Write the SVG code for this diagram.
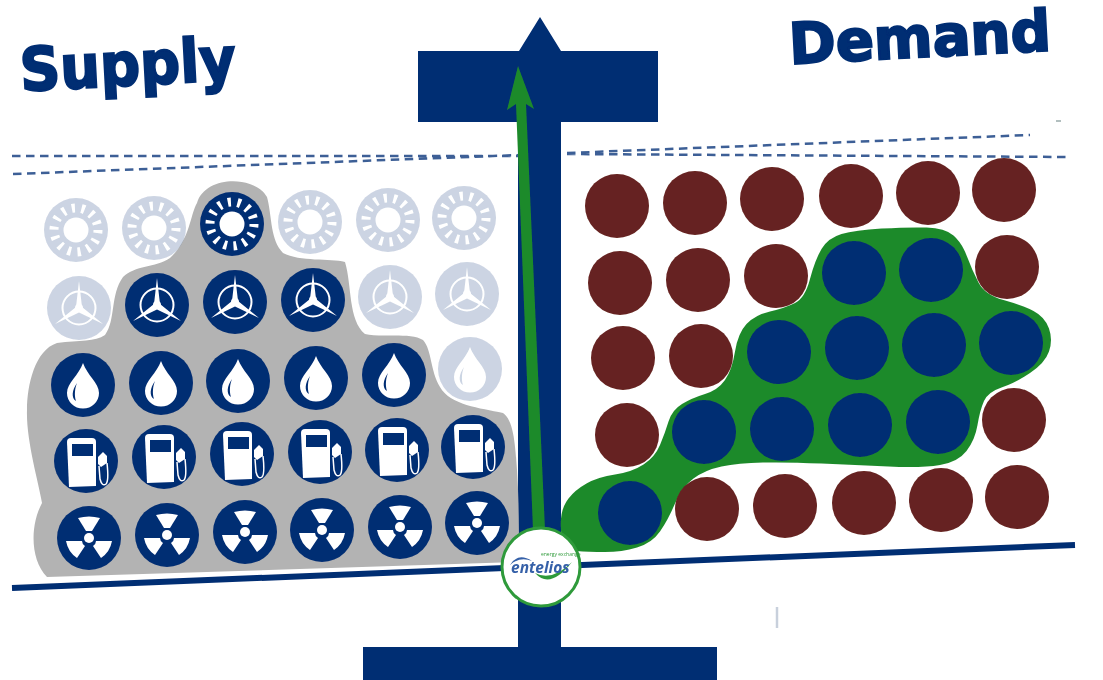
<svg xmlns="http://www.w3.org/2000/svg" width="1103" height="680" viewBox="0 0 1103 680">
<style>
.n{fill:#032d73}.b{fill:#662420}.w{fill:#fff}
.t{font-family:"DejaVu Sans",sans-serif;font-weight:700;fill:#032d73;stroke:#032d73;stroke-width:2.200px}
.dash{fill:none;stroke:#3c5f96;stroke-width:2.500;stroke-dasharray:8.500 5.500}
.ws{fill:none;stroke:#fff;stroke-width:2}
.faint{opacity:.2}
</style>
<defs>
<filter id="soft" x="0" y="0" width="100%" height="100%" filterUnits="userSpaceOnUse"><feGaussianBlur stdDeviation="0.600"/></filter>
<g id="sun"><circle r="32" class="n"/><circle r="12.500" class="w"/><circle r="22" fill="none" stroke="#fff" stroke-width="9" stroke-dasharray="3.200 6.670"/></g>
<g id="wind"><circle r="32" class="n"/><circle r="16.500" class="ws"/><path class="w" d="M0-27 3-1 24 16 0 4.500-24 16-3-1Z"/><circle r="4" class="w"/></g>
<g id="drop"><circle r="32" class="n"/><path class="w" d="M0-22C4-10 16-2 16 8A16 15.500 0 0 1-16 8C-16-2-4-10 0-22Z"/><path class="n" d="M-6-2C-11 5-12 13-7 16C-9 10-8 3-6-2Z"/></g>
<g id="pump"><circle r="32" class="n"/><path class="w" d="M-19-19Q-19-23-15-23H6Q10-23 10-19V25L-17 26Z"/><rect x="-14" y="-17" width="21" height="12" class="n"/><path class="w" d="M12-4 17-9 21-5V2L15 6 12 3Z"/><path d="M13 5 14 18Q16 26 20 23 23 20 21 2" fill="none" stroke="#fff" stroke-width="1.500"/></g>
<g id="nuke"><circle r="32" class="n"/><circle r="5" class="w"/><path class="w" d="M-11-20Q0-23 11-20L3-7H-3Z"/><path class="w" d="M-23 3H-7Q-7 6-4 8L-12 20Q-21 14-23 3Z"/><path class="w" d="M23 3H7Q7 6 4 8L12 20Q21 14 23 3Z"/></g>
<circle id="bc" r="32" class="b"/>
<circle id="nc" r="32" class="n"/>
</defs>
<rect width="1103" height="680" fill="#fff"/>
<g filter="url(#soft)">
<g id="supply-label"><text class="t" x="21" y="91" font-size="60" textLength="216" lengthAdjust="spacingAndGlyphs" transform="rotate(-3 21 91)">Supply</text></g>
<g id="demand-label"><text class="t" x="790" y="64" font-size="57" textLength="262" lengthAdjust="spacingAndGlyphs" transform="rotate(-3 790 64)">Demand</text></g>
<g id="connectors">
<path class="dash" d="M12 156H520M13 174 520 155M567 154 1066 157M567 153 1030 135"/>
</g>
<g id="scale">
<path class="n" d="M418 51H519L540 17 561 51H658V122H561V647H717V680H363V647H518V122H418Z"/>
<path d="M12 588 1075 545" stroke="#032d73" stroke-width="6" fill="none"/>
</g>
<g id="supply-area"><path fill="#b3b3b3" d="M47 577C30 560 30 525 42 503C38 480 26 440 27 410C27 385 35 350 57 343C80 340 95 342 105 335C116 320 110 295 123 277C135 265 155 268 170 258C190 240 190 215 197 203C205 175 255 175 267 197C272 215 270 240 283 253C300 262 330 258 345 262C352 285 348 320 365 334C380 338 410 332 423 340C432 350 430 370 440 387C450 405 480 408 503 413C513 420 515 440 517 470C519 500 519 530 519 562Z"/></g>
<g id="supply-icons">
<use href="#sun" x="76" y="230" class="faint"/><use href="#sun" x="154" y="228" class="faint"/><use href="#sun" x="232" y="224"/><use href="#sun" x="310" y="222" class="faint"/><use href="#sun" x="388" y="220" class="faint"/><use href="#sun" x="464" y="218" class="faint"/>
<use href="#wind" x="79" y="308" class="faint"/><use href="#wind" x="157" y="305"/><use href="#wind" x="235" y="302"/><use href="#wind" x="313" y="300"/><use href="#wind" x="390" y="297" class="faint"/><use href="#wind" x="467" y="294" class="faint"/>
<use href="#drop" x="83" y="385"/><use href="#drop" x="161" y="383"/><use href="#drop" x="238" y="381"/><use href="#drop" x="316" y="378"/><use href="#drop" x="394" y="375"/><use href="#drop" x="470" y="369" class="faint"/>
<use href="#pump" x="86" y="461"/><use href="#pump" x="164" y="457"/><use href="#pump" x="242" y="454"/><use href="#pump" x="320" y="452"/><use href="#pump" x="397" y="450"/><use href="#pump" x="473" y="447"/>
<use href="#nuke" x="89" y="538"/><use href="#nuke" x="167" y="535"/><use href="#nuke" x="245" y="532"/><use href="#nuke" x="322" y="530"/><use href="#nuke" x="400" y="527"/><use href="#nuke" x="477" y="523"/>
</g>
<g id="demand-area"><path fill="#1f8a2c" d="M561 518.500Q562 507 568.500 498.500Q575 490 586.500 483.500Q598 477 615 474.500Q632 472 643.500 464.500Q655 457 660 445Q665 433 668.500 421.500Q672 410 682 404Q692 398 705 394Q718 390 725 380Q732 370 735 351.500Q738 333 746.500 324Q755 315 770 311.500Q785 308 795 303Q805 298 810 279Q815 260 821.500 249Q828 238 841.500 234Q855 230 881.500 228.500Q908 227 926.500 227.500Q945 228 953.500 235.500Q962 243 967 256.500Q972 270 978.500 282.500Q985 295 1003.500 300Q1022 305 1033.500 311Q1045 317 1049 328.500Q1053 340 1049 351.500Q1045 363 1030 373Q1015 383 1001.500 387.500Q988 392 984 401Q980 410 977.500 425Q975 440 966.500 451Q958 462 940 465Q922 468 888.500 466.500Q855 465 821.500 463.500Q788 462 763 462.500Q738 463 721.500 466.500Q705 470 693.500 478.500Q682 487 675 503.500Q668 520 660 531.500Q652 543 637 547.500Q622 552 605 552Q588 552 576.500 551Q565 550 562.500 540Q560 530 561 518.500Z"/></g>
<g id="demand-icons">
<use href="#bc" x="617" y="206"/><use href="#bc" x="695" y="203"/><use href="#bc" x="772" y="199"/><use href="#bc" x="851" y="196"/><use href="#bc" x="928" y="193"/><use href="#bc" x="1004" y="190"/>
<use href="#bc" x="620" y="283"/><use href="#bc" x="698" y="280"/><use href="#bc" x="776" y="276"/><use href="#nc" x="854" y="273"/><use href="#nc" x="931" y="270"/><use href="#bc" x="1007" y="267"/>
<use href="#bc" x="623" y="358"/><use href="#bc" x="701" y="356"/><use href="#nc" x="779" y="352"/><use href="#nc" x="857" y="348"/><use href="#nc" x="934" y="345"/><use href="#nc" x="1011" y="343"/>
<use href="#bc" x="627" y="435"/><use href="#nc" x="704" y="432"/><use href="#nc" x="782" y="429"/><use href="#nc" x="860" y="425"/><use href="#nc" x="938" y="422"/><use href="#bc" x="1014" y="420"/>
<use href="#nc" x="630" y="513"/><use href="#bc" x="707" y="509"/><use href="#bc" x="785" y="506"/><use href="#bc" x="864" y="503"/><use href="#bc" x="941" y="500"/><use href="#bc" x="1017" y="497"/>
</g>
<g id="arrow"><path fill="#1f8a2c" d="M518 66 534 109 526 104 545 530H533L516 104 507 110Z"/></g>
<g id="logo"><circle cx="541" cy="567" r="39" fill="#fff" stroke="#2f9a3a" stroke-width="3"/>
<path d="M535 573Q550 590 572 562Q552 582 535 573Z" fill="#2f9a3a"/>
<path d="M510 565Q518 552 532 561Q520 556 510 565Z" fill="#3560a8"/>
<text x="511" y="573" font-family="'Open Sans',sans-serif" font-size="15.500" font-style="italic" font-weight="700" fill="#3560a8">entelios</text>
<text x="541" y="556" font-family="'Open Sans',sans-serif" font-size="5" fill="#2f9a3a">energy exchange</text></g>
<path d="M777 607V628" stroke="#c8d0dc" stroke-width="2.500"/>
<path d="M1056 121H1061" stroke="#9aa" stroke-width="1.500"/>
</g>
</svg>
